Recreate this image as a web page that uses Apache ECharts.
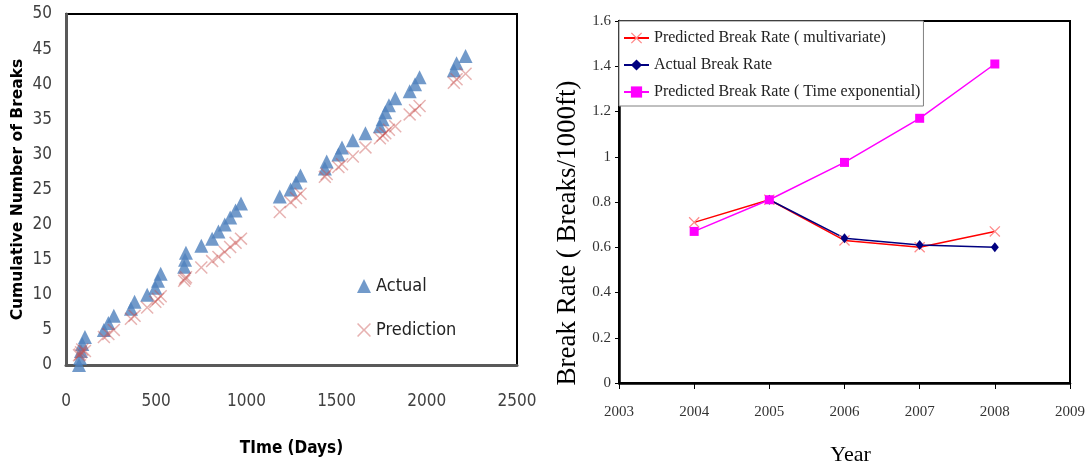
<!DOCTYPE html>
<html>
<head>
<meta charset="utf-8">
<script src="https://cdn.jsdelivr.net/npm/echarts@6/dist/echarts.min.js"></script>
<style>
html,body{margin:0;padding:0;background:#fff;}
#c{width:1086px;height:469px;}
</style>
</head>
<body>
<div id="c"></div>
<script>
// ---- Left chart data (Time in days vs cumulative breaks) ----
var days = [72,78,83,90,105,210,235,265,360,380,450,495,510,525,655,660,665,750,810,845,880,910,940,970,1185,1245,1275,1300,1435,1445,1510,1530,1590,1660,1740,1755,1770,1790,1825,1905,1935,1960,2150,2165,2215];
var actualBreaks = [0,1,2,3,4,5,6,7,8,9,10,11,12,13,14,15,16,17,18,19,20,21,22,23,24,25,26,27,28,29,30,31,32,33,34,35,36,37,38,39,40,41,42,43,44];
var predictedBreaks = [1.4,1.5,1.8,2.2,2.0,4.0,4.4,5.0,6.6,7.0,8.2,9.0,9.4,9.8,12.0,12.3,12.5,13.9,14.8,15.4,16.1,16.8,17.4,18.0,21.8,23.2,23.8,24.4,26.8,27.2,28.2,28.6,29.7,31.0,32.3,32.7,33.0,33.5,34.0,35.7,36.3,36.9,40.2,40.7,41.5];

// ---- Right chart data (break rate by year) ----
var years = [2004,2005,2006,2007,2008];
var predMultivariate = [0.71,0.81,0.63,0.60,0.67];
var actualRate = [null,0.81,0.64,0.61,0.60];
var predTimeExp = [0.67,0.81,0.975,1.17,1.41];

var leftXTicks = {min:0,max:2500,interval:500};
var leftYTicks = {min:0,max:50,interval:5};
var rightXTicks = {min:2003,max:2009,interval:1};
var rightYTicks = {min:0,max:1.6,interval:0.2};

var XPATH = 'path://M0,0.8 L0.8,0 L5,4.2 L9.2,0 L10,0.8 L5.8,5 L10,9.2 L9.2,10 L5,5.8 L0.8,10 L0,9.2 L4.2,5 Z';

function zip(xs, ys){ var out=[]; for(var i=0;i<xs.length;i++){ out.push([xs[i], ys[i]]); } return out; }

var narrow = "'Liberation Sans Narrow','DejaVu Sans Condensed',Roboto,sans-serif";
var serif = "'Liberation Serif','Times New Roman',serif";

var chart = echarts.init(document.getElementById('c'));
chart.setOption({
  animation:false,
  backgroundColor:'#fff',
  grid:[
    {left:66, top:14, width:451, height:351, show:true, borderColor:'#000', borderWidth:2, backgroundColor:'transparent', outerBoundsMode:'none', containLabel:false},
    {left:619, top:21, width:451, height:362, show:true, borderColor:'#000', borderWidth:2, backgroundColor:'transparent', outerBoundsMode:'none', containLabel:false}
  ],
  xAxis:[
    {type:'value', gridIndex:0, min:leftXTicks.min, max:leftXTicks.max, interval:leftXTicks.interval,
     splitLine:{show:false}, axisTick:{show:false},
     axisLine:{lineStyle:{color:'#595959', width:3}},
     axisLabel:{margin:28, color:'#404040', fontFamily:narrow, fontSize:17, formatter:function(v){return String(v);}},
     name:'TIme (Days)', nameLocation:'middle', nameGap:75,
     nameTextStyle:{fontFamily:narrow, fontWeight:'bold', fontSize:17, color:'#000'}},
    {type:'value', gridIndex:1, min:rightXTicks.min, max:rightXTicks.max, interval:rightXTicks.interval,
     splitLine:{show:false}, axisTick:{show:true, length:6, lineStyle:{color:'#000', width:1}},
     axisLine:{lineStyle:{color:'#000', width:2.5}},
     axisLabel:{margin:22, color:'#333', fontFamily:serif, fontSize:15, formatter:function(v){return String(v);}},
     name:'Year', nameLocation:'middle', nameGap:61,
     nameTextStyle:{fontFamily:serif, fontSize:22, color:'#000', padding:[0,0,0,12]}}
  ],
  yAxis:[
    {type:'value', gridIndex:0, min:leftYTicks.min, max:leftYTicks.max, interval:leftYTicks.interval,
     splitLine:{show:false}, axisTick:{show:false},
     axisLine:{show:true, lineStyle:{color:'#595959', width:3}},
     axisLabel:{margin:14, color:'#404040', fontFamily:narrow, fontSize:17},
     name:'Cumulative Number of Breaks', nameLocation:'middle', nameGap:40, nameRotate:90,
     nameTextStyle:{fontFamily:"'DejaVu Sans',sans-serif", fontWeight:'bold', fontSize:15.5, color:'#000'}},
    {type:'value', gridIndex:1, min:rightYTicks.min, max:rightYTicks.max, interval:rightYTicks.interval,
     splitLine:{show:false}, axisTick:{show:true, length:4, lineStyle:{color:'#000', width:1}},
     axisLine:{show:true, lineStyle:{color:'#000', width:2.5}},
     axisLabel:{margin:8, color:'#333', fontFamily:serif, fontSize:15,
       formatter:function(v){return String(Math.round(v*10)/10);}},
     name:'Break Rate ( Breaks/1000ft)', nameLocation:'middle', nameGap:38, nameRotate:90,
     nameTextStyle:{fontFamily:serif, fontSize:27, color:'#000', padding:[0,62,0,0]}}
  ],
  legend:[
    {data:['Actual','Prediction'], orient:'vertical', left:357, top:277, itemGap:26, itemWidth:14, itemHeight:14,
     textStyle:{fontFamily:narrow, fontSize:18, color:'#222'}, padding:0},
    {data:['Predicted Break Rate ( multivariate)','Actual Break Rate','Predicted Break Rate ( Time exponential)'],
     orient:'vertical', left:619, top:21, itemGap:11, itemWidth:25, itemHeight:14, padding:[9,3,6,4],
     backgroundColor:'#fff', borderColor:'#808080', borderWidth:1,
     textStyle:{fontFamily:serif, fontSize:16, color:'#222'}}
  ],
  series:[
    {name:'Actual', type:'scatter', xAxisIndex:0, yAxisIndex:0, data:zip(days, actualBreaks),
     symbol:'triangle', symbolSize:[14,14], itemStyle:{color:'#4F81BD'}},
    {name:'Prediction', type:'scatter', xAxisIndex:0, yAxisIndex:0, data:zip(days, predictedBreaks),
     symbol:XPATH, symbolSize:13, itemStyle:{color:'rgba(200,80,77,0.55)'}},
    {name:'Predicted Break Rate ( multivariate)', type:'line', xAxisIndex:1, yAxisIndex:1, data:zip(years, predMultivariate),
     symbol:XPATH, symbolSize:11, showAllSymbol:true, itemStyle:{color:'#FF8A8A'}, lineStyle:{color:'#FF0000', width:1.5}},
    {name:'Actual Break Rate', type:'line', xAxisIndex:1, yAxisIndex:1, data:zip(years, actualRate),
     symbol:'diamond', symbolSize:[8,10], itemStyle:{color:'#000080'}, lineStyle:{color:'#000080', width:1.5}},
    {name:'Predicted Break Rate ( Time exponential)', type:'line', xAxisIndex:1, yAxisIndex:1, data:zip(years, predTimeExp),
     symbol:'rect', symbolSize:9, itemStyle:{color:'#FF00FF'}, lineStyle:{color:'#FF00FF', width:1.5}}
  ]
});
</script>
</body>
</html>
